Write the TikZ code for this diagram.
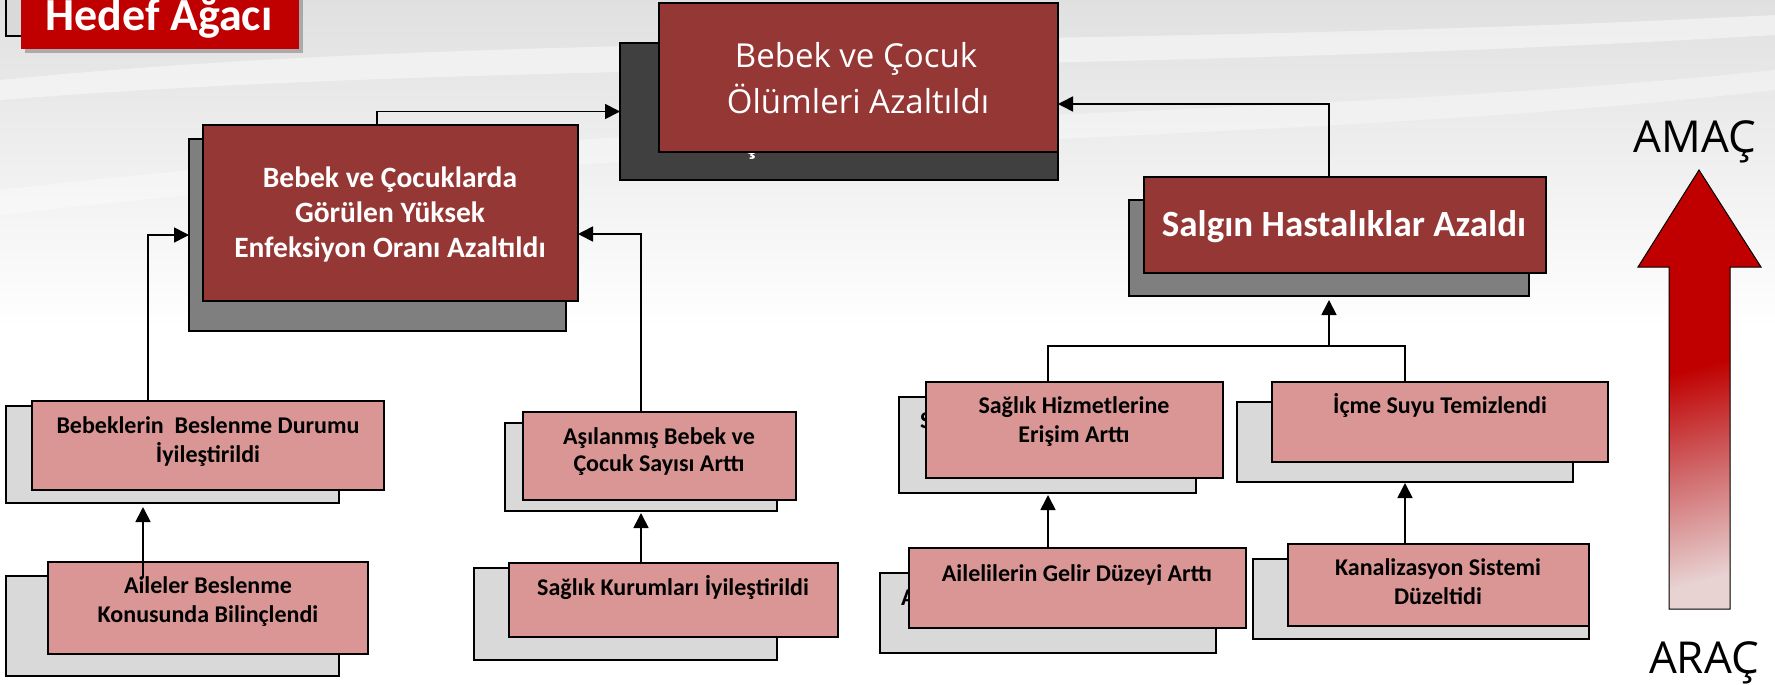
\documentclass[tikz,border=0pt]{standalone}
\usepackage{fontspec}
\setmainfont{Carlito}
\newfontfamily\osans{Open Sans}
\usetikzlibrary{arrows.meta,calc}
\definecolor{darkred}{HTML}{953735}
\definecolor{pinkbox}{HTML}{D99694}
\definecolor{lgrey}{HTML}{D9D9D9}
\definecolor{mgrey}{HTML}{7F7F7F}
\definecolor{dgrey}{HTML}{404040}
\definecolor{hedefred}{HTML}{C00000}
\definecolor{arrowred}{HTML}{C00000}
\definecolor{arrowmid}{HTML}{CF6466}
\definecolor{arrowend}{HTML}{E8D2D2}
\definecolor{bgtop}{HTML}{E0E0E0}
\pgfdeclareverticalshading{bigarrowshade}{100bp}{color(0bp)=(arrowend); color(25bp)=(arrowend); color(40bp)=(arrowmid); color(53bp)=(arrowred); color(100bp)=(arrowred)}
\tikzset{
  box/.style={draw=black, line width=1.8pt, inner sep=0pt, outer sep=0pt},
  redbox/.style={box, fill=darkred},
  pinkbox/.style={box, fill=pinkbox},
  lgbox/.style={box, fill=lgrey},
  mgbox/.style={box, fill=mgrey},
  dgbox/.style={box, fill=dgrey},
  txt/.style={anchor=base, inner sep=0pt, outer sep=0pt},
  whitetxt/.style={txt, text=white, font=\bfseries\fontsize{29.5}{35}\selectfont},
  blacktxt/.style={txt, text=black, font=\bfseries\fontsize{24}{29}\selectfont},
  conn/.style={line width=1.7pt, draw=black, -{Triangle[length=15pt,width=15pt]}},
  plain/.style={line width=1.7pt, draw=black},
}
\begin{document}
\begin{tikzpicture}[x=1pt,y=-1pt]
\useasboundingbox (0,0) rectangle (1775,685);
% background
\fill[white] (0,0) rectangle (1775,685);
\shade[top color=bgtop, bottom color=white] (0,0) rectangle (1775,330);
\fill[white, opacity=0.45] (0,80) .. controls (500,30) and (1100,50) .. (1775,15) -- (1775,35) .. controls (1100,75) and (500,60) .. (0,100) -- cycle;
\fill[white, opacity=0.35] (0,190) .. controls (700,110) and (1300,120) .. (1775,70) -- (1775,90) .. controls (1300,145) and (700,135) .. (0,215) -- cycle;

% title
\node[box, fill=lgrey, line width=1.5pt, minimum width=274pt, minimum height=56pt] (hedG) at (143,8) {};
\fill[black, opacity=0.25] (25,-20) rectangle (303,53);
\node[inner sep=0pt, fill=hedefred, minimum width=278pt, minimum height=69pt] (hedR) at (160,14.5) {};
\node[txt, text=white, font=\bfseries\fontsize{46}{55}\selectfont] (hedT) at (159,31) {Hedef Ağacı};

% top goal
\node[dgbox, minimum width=438pt, minimum height=137pt] (topD) at (839,111.5) {};
\node[whitetxt] (frag1) at (752,154) {ş};
\node[redbox, minimum width=399pt, minimum height=149pt] (topR) at (858.5,77.5) {};
\node[txt, text=white, font=\osans\fontsize{33}{40}\selectfont] (topT1) at (856,67) {Bebek ve Çocuk};
\node[txt, text=white, font=\osans\fontsize{33}{40}\selectfont] (topT2) at (858,113) {Ölümleri Azaltıldı};

% infection
\node[mgbox, minimum width=377pt, minimum height=192pt] (infG) at (377.5,235) {};
\node[redbox, minimum width=375pt, minimum height=176pt] (infR) at (390.5,213) {};
\node[whitetxt] (infT1) at (390,187) {Bebek ve Çocuklarda};
\node[whitetxt] (infT2) at (390,222) {Görülen Yüksek};
\node[whitetxt] (infT3) at (390,257) {Enfeksiyon Oranı Azaltıldı};

% salgin
\node[mgbox, minimum width=400pt, minimum height=96pt] (salG) at (1329,248) {};
\node[redbox, minimum width=402pt, minimum height=96pt] (salR) at (1345,225) {};
\node[txt, text=white, font=\bfseries\fontsize{37}{44}\selectfont] (salT) at (1344,236) {Salgın Hastalıklar Azaldı};

% left column
\node[lgbox, minimum width=333pt, minimum height=97pt] (bebG) at (172.5,454.5) {};
\node[pinkbox, minimum width=352pt, minimum height=89pt] (bebR) at (208,445.5) {};
\node[blacktxt] (bebT1) at (208,433) {Bebeklerin\ \ Beslenme Durumu};
\node[blacktxt] (bebT2) at (208,462) {İyileştirildi};

\node[lgbox, minimum width=333pt, minimum height=100pt] (aiG) at (172.5,626) {};
\node[pinkbox, minimum width=320pt, minimum height=92pt] (aiR) at (208,608) {};
\node[blacktxt] (aiT1) at (208,593) {Aileler Beslenme};
\node[blacktxt] (aiT2) at (208,622) {Konusunda Bilinçlendi};

% middle column
\node[lgbox, minimum width=272pt, minimum height=88pt] (asG) at (641,467) {};
\node[pinkbox, minimum width=273pt, minimum height=88pt] (asR) at (659.5,456) {};
\node[blacktxt] (asT1) at (659,444) {Aşılanmış Bebek ve};
\node[blacktxt] (asT2) at (659,471) {Çocuk Sayısı Arttı};

\node[lgbox, minimum width=303pt, minimum height=92pt] (skG) at (625.5,614) {};
\node[pinkbox, minimum width=329pt, minimum height=74pt] (skR) at (673.5,600) {};
\node[blacktxt] (skT) at (673,595) {Sağlık Kurumları İyileştirildi};

% right columns
\node[lgbox, minimum width=297pt, minimum height=96pt] (shG) at (1047.5,445) {};
\node[blacktxt, anchor=base west] (frag2) at (920,428) {S};
\node[pinkbox, minimum width=297pt, minimum height=96pt] (shR) at (1074.5,430) {};
\node[blacktxt] (shT1) at (1074,413) {Sağlık Hizmetlerine};
\node[blacktxt] (shT2) at (1074,442) {Erişim Arttı};

\node[lgbox, minimum width=336pt, minimum height=80pt] (alG) at (1048,613) {};
\node[blacktxt, anchor=base west] (frag3) at (901,605) {A};
\node[pinkbox, minimum width=337pt, minimum height=80pt] (alR) at (1077.5,588) {};
\node[blacktxt] (alT) at (1077,581) {Ailelilerin Gelir Düzeyi Arttı};

\node[lgbox, minimum width=336pt, minimum height=80pt] (icG) at (1405,442) {};
\node[pinkbox, minimum width=336pt, minimum height=80pt] (icR) at (1440,422) {};
\node[blacktxt] (icT) at (1440,413) {İçme Suyu Temizlendi};

\node[lgbox, minimum width=336pt, minimum height=80pt] (kaG) at (1421,599) {};
\node[pinkbox, minimum width=301pt, minimum height=82pt] (kaR) at (1438.5,585) {};
\node[blacktxt] (kaT1) at (1438,575) {Kanalizasyon Sistemi};
\node[blacktxt] (kaT2) at (1438,604) {Düzeltidi};

% connector bend points
\coordinate (k1) at (377,111);
\coordinate (k2) at (1329,104);
\coordinate (k3) at (148,235);
\coordinate (k4) at (641,234);
\coordinate (k5) at (143,578);
\coordinate (k7) at (1048,0);
\coordinate (k8) at (1405,0);
\coordinate (k9) at (1329,346);

% connectors
\draw[conn] (infR.north -| k1) |- (topD.west);
\draw[conn] (salR.north -| k2) |- (topR.east |- k2);
\draw[conn] (bebR.north -| k3) |- (infG.west);
\draw[conn] (asR.north -| k4) |- (infR.east |- k4);
\draw[conn, shorten >=4pt] (k5) -- (bebG.south -| k5);
\draw[conn, shorten >=2pt] (skR.north -| k4) -- (asG.south -| k4);
\draw[conn, shorten >=2pt] (alR.north -| k7) -- (shG.south -| k7);
\draw[conn, shorten >=1pt] (kaR.north -| k8) -- (icG.south -| k8);
\draw[plain] (shR.north -| k7) |- (k9) -| (icR.north -| k8);
\draw[conn, shorten >=4pt] (k9) -- (salG.south -| k9);

% big AMAC-ARAC arrow
\shade[shading=bigarrowshade, shading angle=15, draw=black, line width=1pt]
  (1699,170) -- (1761,267) -- (1730,267) -- (1730,609) -- (1669,609) -- (1669,267) -- (1638,267) -- cycle;
\node[txt, font=\osans\fontsize{44}{53}\selectfont] (amac) at (1695,152) {AMAÇ};
\node[txt, font=\osans\fontsize{44}{53}\selectfont] (arac) at (1704,673) {ARAÇ};
\end{tikzpicture}
\end{document}
